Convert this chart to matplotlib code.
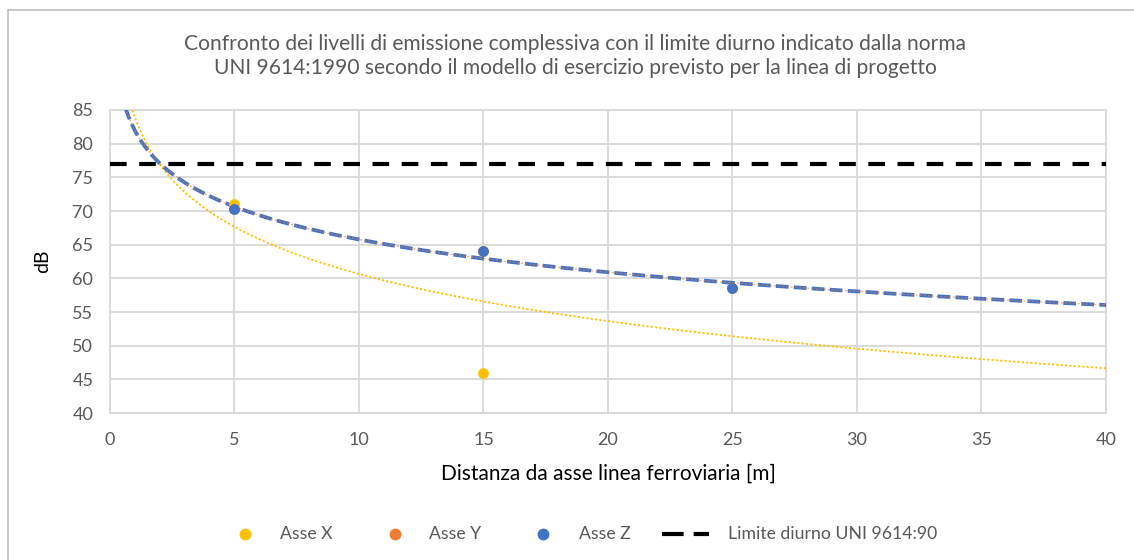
import numpy as np
import matplotlib
matplotlib.use("Agg")
import matplotlib.pyplot as plt
from matplotlib.lines import Line2D

plt.rcParams['font.family'] = ['Lato', 'DejaVu Sans']

# Data
dist = [5, 15, 25]
asse_x = [71.0, 46.0, 58.6]
asse_y = [70.3, 64.0, 58.6]
asse_z = [70.3, 64.0, 58.6]
limite = 77.0
title = ("Confronto dei livelli di emissione complessiva con il limite diurno indicato dalla norma\n"
         "UNI 9614:1990 secondo il modello di esercizio previsto per la linea di progetto")
xlabel = "Distanza da asse linea ferroviaria [m]"
ylabel = "dB"
xticks = list(range(0, 41, 5))
yticks = list(range(40, 86, 5))
labels = ["Asse X", "Asse Y", "Asse Z", "Limite diurno UNI 9614:90"]

c_x = "#FFC000"
c_y = "#ED7D31"
c_z = "#4472C4"
grey = "#595959"

W, H = 1134, 560
fig = plt.figure(figsize=(W/100, H/100), dpi=100)
# chart-area border (left and top edges visible)
fig.add_artist(Line2D([8/W, 8/W], [0, 1-10/H], transform=fig.transFigure, color="#bfbfbf", lw=1.2))
fig.add_artist(Line2D([8/W, 1], [1-10/H, 1-10/H], transform=fig.transFigure, color="#bfbfbf", lw=1.2))

ax = fig.add_axes([110/W, 1-413/H, (1106-110)/W, (413-110)/H])

xs = np.linspace(0.2, 40, 600)
def logfit(x, y):
    b, a = np.polyfit(np.log(x), y, 1)
    return a + b*np.log(xs)

ax.plot(xs, logfit(dist, asse_x), color=c_x, lw=1.3, linestyle=(0, (1.2, 1.2)), zorder=3)
ax.plot(xs, logfit(dist, asse_z), color=c_z, lw=2.7, linestyle=(0, (3.4, 1.4)), zorder=3)
ax.plot(xs, logfit(dist, asse_y), color=c_y, lw=1.0, linestyle=(0, (1.5, 1.5)), zorder=3.5, alpha=0.6)
ax.axhline(limite, color="black", lw=3.0, linestyle=(0, (4.0, 3.0)), zorder=4)

ax.scatter(dist, asse_x, s=60, color=c_x, zorder=5, linewidths=0)
ax.scatter(dist, asse_y, s=60, color=c_y, zorder=5, linewidths=0)
ax.scatter(dist, asse_z, s=60, color=c_z, zorder=6, linewidths=0)

ax.set_xlim(0, 40)
ax.set_ylim(40, 85)
ax.set_xticks(xticks)
ax.set_yticks(yticks)
ax.tick_params(length=0, labelsize=13, labelcolor=grey)
ax.tick_params(axis="x", pad=14)
ax.tick_params(axis="y", pad=12)
ax.grid(True, color="#d9d9d9", lw=1.3)
ax.set_axisbelow(True)
for s in ax.spines.values():
    s.set_color("#d9d9d9")
    s.set_linewidth(1.3)

ax.set_xlabel(xlabel, fontsize=15, color="black", labelpad=11)
ax.set_ylabel(ylabel, fontsize=14, color="black", labelpad=15)
fig.text(575/W, 1-56/H, title, ha="center", va="center", fontsize=15.1, color=grey, linespacing=1.3)

# legend drawn manually at the reference positions
ly = 1 - 534/H
marker_x = [245, 395, 543]
text_x = [280, 429, 579, 728]
colors = [c_x, c_y, c_z]
for mx, c in zip(marker_x, colors):
    fig.add_artist(Line2D([mx/W], [ly], transform=fig.transFigure, marker="o",
                          color=c, markersize=7.5, linestyle="none"))
fig.add_artist(Line2D([662/W, 709/W], [ly, ly], transform=fig.transFigure, color="black",
                      lw=3.0, linestyle=(0, (5.2, 2.4))))
for tx, lab in zip(text_x, labels):
    fig.text(tx/W, ly, lab, ha="left", va="center", fontsize=12.7, color=grey)

fig.savefig("out.png", dpi=100)
